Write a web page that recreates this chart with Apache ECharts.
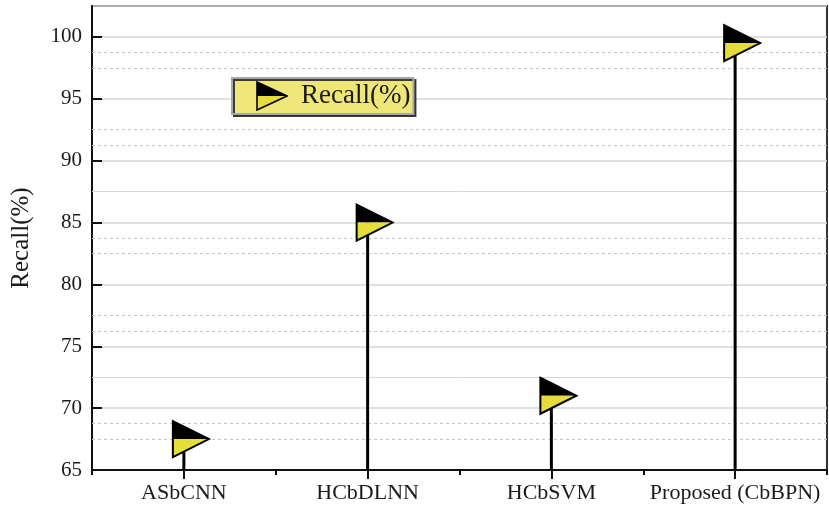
<!DOCTYPE html>
<html>
<head>
<meta charset="utf-8">
<script src="https://cdn.jsdelivr.net/npm/echarts@6/dist/echarts.min.js"></script>
<style>
html,body{margin:0;padding:0;background:#fff;}
#chart{width:829px;height:509px;}
</style>
</head>
<body>
<div id="chart"></div>
<script>
const categories = ['ASbCNN', 'HCbDLNN', 'HCbSVM', 'Proposed (CbBPN)'];
const recall = [67.5, 85, 71, 99.5];
const yMin = 65, yMax = 102.5, yStep = 5;
const solidGrid = [72.5, 87.5];
const dottedGrid = [67.5, 68.75, 76.25, 77.5, 82.5, 83.75, 91.25, 92.5, 97.5, 98.75];
const seriesName = 'Recall(%)';

const serif = '"Liberation Serif", "Times New Roman", serif';
const flagSvg = '<svg xmlns="http://www.w3.org/2000/svg" width="32" height="30" viewBox="0 0 32 30">' +
  '<polygon points="1,1 31,15 1,15" fill="#000"/>' +
  '<polygon points="1,15 31,15 1,29" fill="#e6dd3b"/>' +
  '<polygon points="1,1 31,15 1,29" fill="none" stroke="#000" stroke-width="1.6"/>' +
  '</svg>';
const flagIcon = 'image://data:image/svg+xml;charset=utf-8,' + encodeURIComponent(flagSvg);

const chart = echarts.init(document.getElementById('chart'), null, {renderer: 'canvas'});
const option = {
  backgroundColor: '#fff',
  animation: false,
  grid: {left: 92, right: 2, top: 6, bottom: 39, show: true, borderColor: '#333', borderWidth: 2,
    backgroundColor: 'transparent', containLabel: false, outerBoundsMode: 'none'},
  legend: {
    left: 232, top: 78,
    data: [{name: seriesName, icon: flagIcon}],
    itemWidth: 32, itemHeight: 30,
    padding: [3, 3, 3, 24],
    backgroundColor: '#efe67a',
    borderColor: '#a8a8a8', borderWidth: 2,
    shadowColor: 'rgba(40,40,40,0.9)', shadowBlur: 0, shadowOffsetX: 2, shadowOffsetY: 2,
    textStyle: {fontFamily: serif, fontSize: 27, color: '#1a1a1a', padding: [0, 0, 0, 8]},
    selectedMode: false
  },
  xAxis: [{
    type: 'category', data: categories, boundaryGap: true,
    axisLine: {lineStyle: {color: '#111', width: 2}},
    axisTick: {show: true, alignWithLabel: true, length: 9, lineStyle: {color: '#111', width: 2}},
    axisLabel: {fontFamily: serif, fontSize: 22, color: '#1a1a1a', margin: 12, interval: 0, hideOverlap: false},
    splitLine: {show: false}
  }, {
    type: 'category', data: categories, boundaryGap: true, position: 'bottom',
    axisLine: {show: false},
    axisTick: {show: true, alignWithLabel: false, interval: 0, length: 5, lineStyle: {color: '#111', width: 2}},
    axisLabel: {show: false},
    splitLine: {show: false}
  }],
  yAxis: {
    type: 'value', min: yMin, max: yMax, interval: yStep,
    name: seriesName, nameLocation: 'middle', nameRotate: 90, nameGap: 58,
    nameTextStyle: {fontFamily: serif, fontSize: 25, color: '#1a1a1a'},
    axisLine: {show: true, lineStyle: {color: '#111', width: 2}},
    axisTick: {show: true, inside: true, length: 10, lineStyle: {color: '#111', width: 2}},
    axisLabel: {fontFamily: serif, fontSize: 21, color: '#1a1a1a', margin: 10, showMaxLabel: false,
      formatter: v => (v % yStep === 0 ? String(v) : '')},
    splitLine: {show: true, lineStyle: {color: '#d6d6d6', width: 1.5}}
  },
  series: [{
    name: 'gridlines', type: 'line', data: [], z: 1, silent: true,
    markLine: {
      silent: true, symbol: 'none', label: {show: false}, animation: false,
      data: solidGrid.map(v => ({yAxis: v, lineStyle: {type: 'solid', color: '#d6d6d6', width: 1}}))
        .concat(dottedGrid.map(v => ({yAxis: v, lineStyle: {type: [3, 3], color: '#c4c4c4', width: 1}})))
    }
  }, {
    name: seriesName, type: 'custom', z: 5,
    data: recall.map((v, i) => [i, v]),
    encode: {x: 0, y: 1},
    renderItem: function (params, api) {
      const idx = api.value(0), val = api.value(1);
      const p = api.coord([idx, val]);
      const b = api.coord([idx, yMin]);
      const x = p[0], y = p[1];
      const L = x - 11, T = x + 25;
      return {
        type: 'group',
        children: [
          {type: 'line', shape: {x1: x, y1: b[1], x2: x, y2: y}, style: {stroke: '#000', lineWidth: 3}},
          {type: 'polygon', shape: {points: [[L, y - 18], [T, y], [L, y]]}, style: {fill: '#000'}},
          {type: 'polygon', shape: {points: [[L, y], [T, y], [L, y + 18]]}, style: {fill: '#e6dd3b'}},
          {type: 'polygon', shape: {points: [[L, y - 18], [T, y], [L, y + 18]]}, style: {fill: 'none', stroke: '#000', lineWidth: 2}}
        ]
      };
    }
  }]
};
chart.setOption(option);
</script>
</body>
</html>
